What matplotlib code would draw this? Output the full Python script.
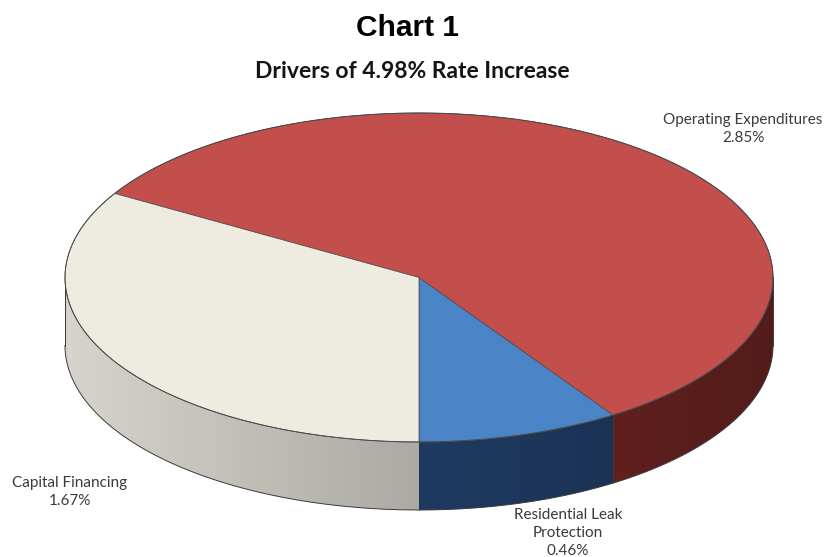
import numpy as np
import matplotlib.pyplot as plt
from matplotlib.patches import Polygon
from matplotlib.colors import to_rgb

# rate increase drivers, listed counter-clockwise starting from the front (270 deg)
categories = ['Residential Leak\nProtection', 'Operating Expenditures', 'Capital Financing']
values = [0.46, 2.85, 1.67]
top_colors = ['#4a84c6', '#c24f4c', '#eeece1']
side_colors = ['#27497a', '#8a2e2b', '#d6d4cc']

label_pos = [(568, 533), (743, 129), (70, 492)]

# pie geometry in pixels
cx, cy = 419, 277.5
rx, ry = 354, 164.5
depth = 68
start = 270.0


def pt(t, dy=0.0):
    r = np.radians(t)
    return cx + rx * np.cos(r), cy - ry * np.sin(r) + dy


fig = plt.figure(figsize=(8.27, 5.57), dpi=100)
ax = fig.add_axes([0, 0, 1, 1])
ax.set_xlim(0, 827)
ax.set_ylim(557, 0)
ax.axis('off')

total = sum(values)
spans = [v / total * 360 for v in values]
bounds = start + np.concatenate([[0], np.cumsum(spans)])

# horizontal shading ramp for the wall: light on the left, dark on the right
xs_img = np.linspace(cx - rx, cx + rx, 400)
ramp = 1 - 0.4 * (1 + (xs_img - cx) / rx) / 2

# front wall of the disc
for i in range(len(values)):
    t0, t1 = bounds[i], bounds[i + 1]
    for lo, hi in [(180, 360), (540, 720)]:
        a0, a1 = max(t0, lo), min(t1, hi)
        if a1 <= a0:
            continue
        tt = np.linspace(a0, a1, 200)
        x_top, y_top = pt(tt)
        x_bot, y_bot = pt(tt[::-1], depth)
        verts = list(zip(x_top, y_top)) + list(zip(x_bot, y_bot))
        wall = Polygon(verts, closed=True, facecolor='none', edgecolor='none')
        ax.add_patch(wall)
        img = np.array(to_rgb(side_colors[i]))[None, None, :] * ramp[None, :, None]
        im = ax.imshow(np.repeat(img, 2, axis=0), extent=(cx - rx, cx + rx, cy + ry + depth, cy - ry),
                       aspect='auto', interpolation='bilinear', zorder=1)
        im.set_clip_path(wall)
        xs, ys = pt(a0)
        ax.plot([xs, xs], [ys, ys + depth], color='#2a2a2a', lw=0.5, alpha=0.6, zorder=2)

ax.set_xlim(0, 827)
ax.set_ylim(557, 0)

# outline of the wall
tt = np.linspace(180, 360, 300)
bx, by = pt(tt, depth)
ax.plot(bx, by, color='#3a3a3a', lw=0.7, zorder=2)
lx, ly = pt(180)
ax.plot([lx, lx], [ly, ly + depth], color='#3a3a3a', lw=0.7, zorder=2)
rxp, ryp = pt(360)
ax.plot([rxp, rxp], [ryp, ryp + depth], color='#3a3a3a', lw=0.7, zorder=2)

# top face
for i in range(len(values)):
    t0, t1 = bounds[i], bounds[i + 1]
    tt = np.linspace(t0, t1, max(2, int((t1 - t0) * 3)))
    xs, ys = pt(tt)
    verts = [(cx, cy)] + list(zip(xs, ys))
    ax.add_patch(Polygon(verts, closed=True, facecolor=top_colors[i],
                         edgecolor='#4a4a4a', lw=0.5, zorder=3))

tt = np.linspace(0, 360, 600)
ex, ey = pt(tt)
ax.plot(ex, ey, color='#4a4a4a', lw=0.7, zorder=4)

# labels
for name, v, (x, y) in zip(categories, values, label_pos):
    ax.text(x, y, f'{name}\n{v:.2f}%', ha='center', va='center', fontsize=11,
            family='Lato', color='#3a3a3a', linespacing=1.4, zorder=5)

fig.text(408 / 827, 1 - 28 / 557, 'Chart 1', ha='center', va='center',
         fontsize=21.5, fontweight='bold', family='Liberation Sans')
fig.text(412 / 827, 1 - 71 / 557, f'Drivers of {total:.2f}% Rate Increase', ha='center',
         va='center', fontsize=16.5, fontweight='bold', family='Lato', color='#151515')

fig.savefig('out.png', dpi=100)
